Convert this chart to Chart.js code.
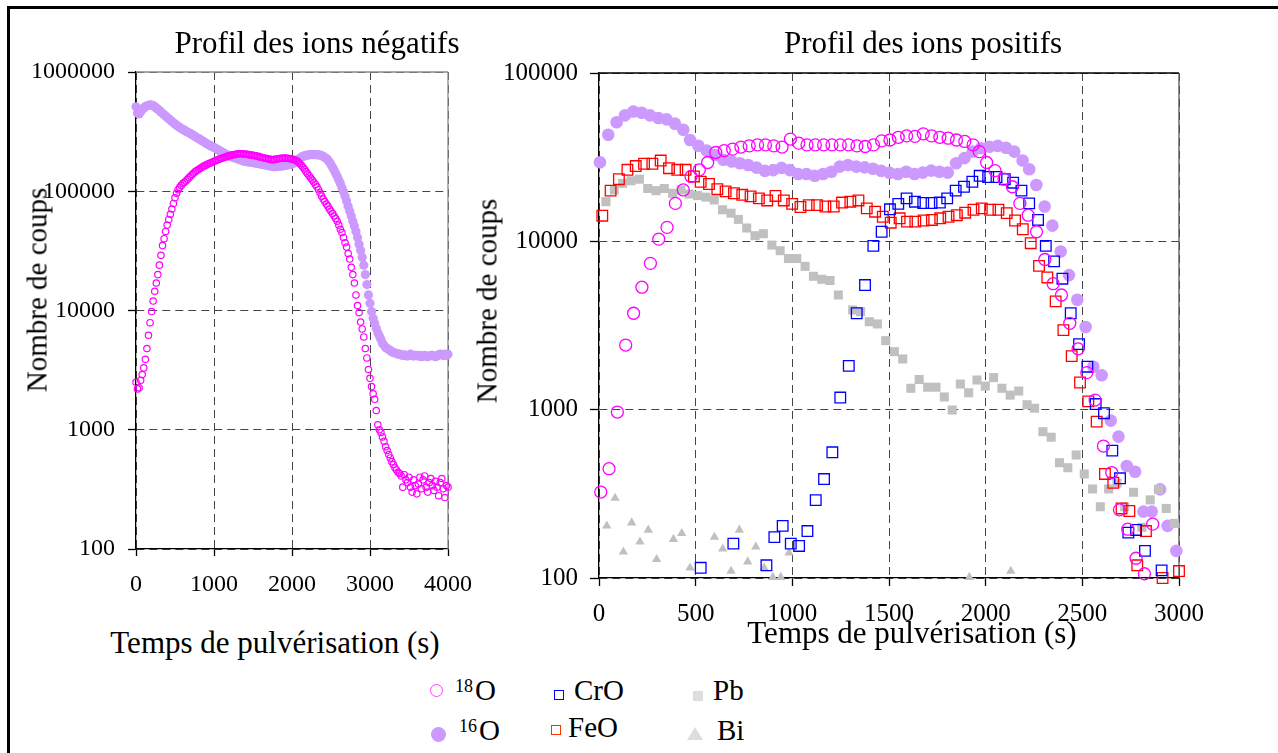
<!DOCTYPE html>
<html lang="fr">
<head>
<meta charset="utf-8">
<title>Profils des ions</title>
<script src="https://cdn.jsdelivr.net/npm/chart.js@4.4.1/dist/chart.umd.min.js"></script>
<style>
  html, body { margin: 0; padding: 0; background: #fff; overflow: hidden; }
  body { width: 1278px; height: 753px; position: relative; font-family: 'Liberation Serif', 'Times New Roman', serif; color: #000; }
  canvas { position: absolute; top: 0; }
  #negChart { left: 0; }
  #posChart { left: 460px; }
  .frame { position: absolute; left: 7px; top: 6px; width: 1400px; height: 900px; border-top: 3px solid #000; border-left: 3px solid #000; }
  .txt { position: absolute; white-space: nowrap; line-height: 1; }
  .title { font-size: 31px; transform: translateX(-50%); }
  .ytitle { font-size: 29px; transform: translate(-50%, -50%) rotate(-90deg); }
  .leg { font-size: 29px; }
  .leg sup { font-size: 18px; vertical-align: baseline; position: relative; top: -8px; margin-right: 2px; }
  .sym { position: absolute; box-sizing: border-box; }
</style>
</head>
<body>
<div class="frame"></div>
<canvas id="negChart" width="634" height="600"></canvas>
<canvas id="posChart" width="818" height="640"></canvas>

<div class="txt title" style="left:317px; top:27px">Profil des ions négatifs</div>
<div class="txt title" style="left:923px; top:27px">Profil des ions positifs</div>
<div class="txt title" style="left:275px; top:627px">Temps de pulvérisation (s)</div>
<div class="txt title" style="left:912px; top:617px">Temps de pulvérisation (s)</div>
<div class="txt ytitle" style="left:37px; top:290px">Nombre de coups</div>
<div class="txt ytitle" style="left:487px; top:301px">Nombre de coups</div>

<!-- legend -->
<div class="sym" style="left:430px; top:684px; width:13px; height:13px; border:1.5px solid #ff44ff; border-radius:50%"></div>
<div class="txt leg" style="left:455px; top:676px"><sup>18</sup>O</div>
<div class="sym" style="left:431px; top:727px; width:15px; height:15px; background:#cc99ff; border-radius:50%"></div>
<div class="txt leg" style="left:459px; top:716px"><sup>16</sup>O</div>
<div class="sym" style="left:554px; top:690px; width:10px; height:10px; border:1.5px solid #0000ff"></div>
<div class="txt leg" style="left:574px; top:676px">CrO</div>
<div class="sym" style="left:551px; top:725px; width:10px; height:10px; border:1.5px solid #ff3300"></div>
<div class="txt leg" style="left:568px; top:713px">FeO</div>
<div class="sym" style="left:693px; top:691px; width:10px; height:10px; background:#dddddd"></div>
<div class="txt leg" style="left:713px; top:676px">Pb</div>
<div class="sym" style="left:687px; top:727px; width:0; height:0; border-left:8px solid transparent; border-right:8px solid transparent; border-bottom:13px solid #dddddd"></div>
<div class="txt leg" style="left:717px; top:716px">Bi</div>

<script>
// ---- negative ions: one reading every 20 s, 0..4000 s ----
const negTimeStep = 20;
const negTime = Array.from({length: 201}, (_, i) => i * negTimeStep);

const o18Neg = [
  2500, 2200, 2250, 2600, 2900, 3300, 3900, 4800, 6200, 7900,            // 0
  9800, 12000, 14500, 17000, 20000, 24000, 29000, 35000, 40000, 46000,   // 200
  52000, 58000, 64000, 71000, 79000, 88000, 96000, 103000, 108000, 112000,
  116000, 119000, 122000, 126000, 130000, 134000, 138000, 142000, 146000, 149000,
  152000, 155000, 158000, 161000, 164000, 166000, 169000, 171000, 173000, 176000,
  178000, 180000, 183000, 185000, 187000, 189000, 191000, 193000, 195000, 197000, // 1000
  199000, 200000, 202000, 203000, 204000, 205000, 206000, 206000, 206000, 205000,
  205000, 204000, 203000, 202000, 201000, 200000, 199000, 198000, 196000, 195000,
  193000, 192000, 190000, 189000, 188000, 186000, 185000, 184000, 184000, 185000,
  186000, 187000, 188000, 189000, 189000, 190000, 190000, 189000, 188000, 187000,
  186000, 185000, 183000, 180000, 176000, 171000, 165000, 159000, 153000, 146000, // 2000
  140000, 135000, 129000, 124000, 119000, 114000, 109000, 103000, 97000, 91000,
  86000, 82000, 78000, 75000, 71000, 68000, 65000, 62000, 59000, 56000,
  52000, 48000, 45000, 41000, 37000, 34000, 30000, 27000, 23000, 20000,
  17000, 13500, 11000, 9600, 8000, 7000, 6000, 4800, 4000, 3200,
  2700, 2300, 2000, 1800, 1450, 1100, 1000, 950, 870, 800,               // 3000
  720, 670, 620, 580, 540, 510, 480, 460, 440, 430,
  410, 330, 420, 380, 360, 400, 330, 300, 380, 340,
  290, 350, 400, 320, 380, 410, 330, 300, 360, 390,
  340, 310, 370, 330, 280, 360, 390, 320, 270, 340,
  330                                                                    // 4000
];

const o16Neg = [
  510000, 450000, 445000, 465000, 485000, 500000, 512000, 520000, 526000, 530000,
  528000, 522000, 512000, 500000, 488000, 475000, 462000, 450000, 438000, 427000,
  416000, 405000, 395000, 385000, 375000, 366000, 358000, 350000, 343000, 336000,
  330000, 325000, 319000, 314000, 309000, 304000, 298000, 293000, 287000, 282000,
  277000, 272000, 267000, 262000, 257000, 252000, 248000, 244000, 240000, 236000,
  233000, 229000, 225000, 221000, 217000, 213000, 210000, 206000, 203000, 200000,
  197000, 195000, 193000, 191000, 189000, 187000, 185000, 183000, 181000, 179000,
  178000, 177000, 176000, 175000, 175000, 174000, 173000, 172000, 171000, 170000,
  169000, 168000, 167000, 166000, 165000, 164000, 163000, 162000, 161000, 161000,
  161000, 162000, 162000, 163000, 163000, 164000, 165000, 166000, 167000, 168000,
  170000, 172000, 175000, 179000, 184000, 189000, 193000, 196000, 198000, 200000,
  201000, 202000, 203000, 203000, 203000, 203000, 202000, 202000, 201000, 199000,
  196000, 192000, 188000, 183000, 176000, 168000, 159000, 150000, 141000, 133000,
  124000, 116000, 107000, 99000, 91000, 83000, 75000, 68000, 62000, 56000,
  51000, 46000, 41000, 36000, 32000, 28000, 24000, 20000, 16500, 13500,
  11500, 9800, 8600, 7800, 7100, 6500, 6100, 5700, 5300, 5100,
  4900, 4800, 4700, 4600, 4500, 4450, 4400, 4350, 4300, 4300,
  4250, 4200, 4250, 4200, 4150, 4200, 4300, 4200, 4150, 4200,
  4200, 4150, 4200, 4100, 4150, 4200, 4150, 4100, 4150, 4200,
  4200, 4150, 4100, 4150, 4250, 4300, 4250, 4200, 4300, 4200,
  4300
];

// ---- positive ions: [time (s), counts] ----
const o18Pos = [[9,324],[52,446],[95,968],[138,2420],[179,3740],[222,5340],[266,7400],[309,10300],[352,12100],[395,16800],
  [436,20200],[476,24300],[519,26600],[562,29400],[604,33700],[648,34600],[691,35300],[734,36300],[777,36900],[820,37400],
  [861,37400],[904,36900],[947,36300],[990,40500],[1033,38300],[1076,37400],[1119,37400],[1162,37400],[1205,37400],[1248,37400],
  [1291,37400],[1334,36900],[1377,36600],[1420,37400],[1462,39500],[1505,40000],[1548,41500],[1591,42300],[1634,42000],[1677,43500],
  [1720,42300],[1763,41500],[1806,41000],[1849,40000],[1892,39200],[1935,37400],[1967,34100],[2005,29400],[2048,26300],[2095,23400],
  [2138,21100],[2177,16800],[2220,14300],[2263,11400],[2306,7800],[2349,5600],[2392,4800],[2435,3260],[2478,2300],[2523,1660],
  [2566,1140],[2609,608],[2652,423],[2692,254],[2735,195],[2778,131],[2821,106],[2864,209]];

const o16Pos = [[5,29500],[48,43000],[91,51000],[134,56000],[178,59000],[221,58000],[264,56000],[307,54000],[350,53000],[393,50000],
  [436,46000],[471,40000],[514,37000],[557,34600],[600,32600],[643,30500],[686,29800],[729,29100],[772,28400],[815,27400],
  [858,26200],[901,26500],[944,27300],[987,26500],[1030,25100],[1073,25100],[1116,24500],[1159,25100],[1202,25900],[1245,27800],
  [1288,28400],[1331,27800],[1374,27500],[1417,27000],[1460,26200],[1503,25500],[1546,25100],[1589,25900],[1632,25100],[1675,25600],
  [1718,26300],[1761,25900],[1804,25600],[1847,29100],[1890,31200],[1933,34100],[1976,35700],[2019,36500],[2062,36900],[2105,36000],
  [2148,34100],[2191,30200],[2225,26800],[2262,21600],[2305,16100],[2345,12400],[2388,8700],[2431,6300],[2474,4500],[2517,3100],
  [2557,1800],[2600,1600],[2647,861],[2687,692],[2730,463],[2773,428],[2816,248],[2859,248],[2902,336],[2941,204],[2986,145]];

const croPos = [[526,115],[695,160],[866,119],[907,175],[950,204],[992,160],[1035,155],[1078,190],[1121,290],[1164,387],
  [1207,558],[1248,1180],[1292,1820],[1333,3740],[1376,5500],[1419,9400],[1462,11400],[1505,15500],[1548,16700],[1591,18000],
  [1634,17200],[1677,16900],[1720,16900],[1763,17000],[1801,18000],[1845,20000],[1888,21100],[1931,22600],[1969,24500],[2013,24100],
  [2056,24100],[2099,23400],[2142,22300],[2185,20000],[2225,16800],[2271,13400],[2311,9400],[2354,7600],[2397,6000],[2440,3740],
  [2483,2450],[2526,1800],[2569,1080],[2612,953],[2655,571],[2695,391],[2738,186],[2778,193],[2824,145],[2910,111]];

const feoPos = [[17,14200],[60,20000],[103,23400],[147,26600],[190,28000],[233,28900],[276,28900],[319,30200],[362,27200],[405,26600],
  [448,26600],[491,24300],[526,22600],[569,21900],[612,20400],[655,19800],[698,19300],[741,18900],[784,18500],[827,18000],
  [870,17500],[913,18600],[956,17500],[999,16700],[1042,16000],[1085,16400],[1128,16400],[1171,16100],[1214,16100],[1257,17000],
  [1300,17200],[1342,17500],[1385,15700],[1428,15000],[1468,14000],[1509,12900],[1555,13700],[1593,13100],[1636,13100],[1679,13300],
  [1722,13400],[1765,13700],[1808,14000],[1851,14300],[1894,14800],[1937,15400],[1980,15700],[2023,15400],[2066,15400],[2109,14700],
  [2152,13300],[2192,11800],[2233,9750],[2276,7150],[2319,6100],[2362,4400],[2402,2970],[2445,2080],[2488,1450],[2531,1120],
  [2574,849],[2617,415],[2660,368],[2703,259],[2743,250],[2784,119],[2829,190],[2915,100],[3000,110]];

const pbPos = [[36,17200],[79,20200],[122,22100],[166,22900],[209,23400],[252,20600],[295,20000],[338,20600],[381,19300],[424,20200],
  [467,19100],[510,18700],[553,18300],[596,17600],[639,15400],[683,14700],[721,13500],[764,12000],[807,10800],[850,11100],
  [894,9500],[937,8800],[980,7900],[1023,7900],[1066,7100],[1109,6200],[1152,5950],[1195,5850],[1238,4800],[1312,3910],
  [1353,3820],[1398,3330],[1440,3230],[1483,2570],[1528,2210],[1571,2000],[1613,1340],[1656,1510],[1700,1360],[1743,1360],
  [1786,1190],[1827,995],[1869,1420],[1912,1260],[1955,1500],[1998,1380],[2041,1550],[2084,1340],[2127,1220],[2171,1290],
  [2214,1070],[2253,1020],[2296,740],[2339,686],[2382,484],[2425,452],[2468,538],[2510,415],[2553,338],[2593,265],
  [2636,338],[2679,366],[2719,265],[2765,323],[2808,200],[2851,291],[2894,336],[2934,259],[2976,211]];

const biPos = [[40,204],[83,298],[126,143],[169,213],[212,164],[255,193],[298,129],[385,170],[428,184],[471,115],
  [597,175],[640,149],[683,110],[726,193],[769,125],[811,153],[854,115],[899,101],[940,101],[983,141],[1916,101],[2130,110]];

// tick labels
const negXTicks = [0, 1000, 2000, 3000, 4000];
const negYTicks = [100, 1000, 10000, 100000, 1000000];
const posXTicks = [0, 500, 1000, 1500, 2000, 2500, 3000];
const posYTicks = [100, 1000, 10000, 100000];

const SERIF = "'Liberation Serif', 'Times New Roman', serif";
Chart.defaults.font.family = SERIF;

// top and right edges of the plot area
const framePlugin = {
  id: 'frame',
  beforeDatasetsDraw(chart, args, opts) {
    const a = chart.chartArea, ctx = chart.ctx;
    ctx.save();
    ctx.lineWidth = 1.3;
    ctx.strokeStyle = opts.topColor;
    ctx.beginPath(); ctx.moveTo(a.left, a.top); ctx.lineTo(a.right, a.top); ctx.stroke();
    ctx.strokeStyle = opts.rightColor;
    ctx.beginPath(); ctx.moveTo(a.right, a.top); ctx.lineTo(a.right, a.bottom); ctx.stroke();
    ctx.restore();
  }
};

function gridOpts(tickLen) {
  return { color: '#444', lineWidth: 1, tickLength: tickLen, tickColor: '#000', tickWidth: 1.3 };
}

function xAxis(ticks, tickLen, pad, height, size) {
  return {
    type: 'linear',
    min: ticks[0],
    max: ticks[ticks.length - 1],
    afterBuildTicks: s => { s.ticks = ticks.map(v => ({value: v})); },
    afterFit: s => { s.height = height; },
    ticks: { callback: v => String(v), padding: pad, color: '#000', font: {size: size}, maxRotation: 0 },
    grid: gridOpts(tickLen),
    border: { color: '#000', width: 1.3, dash: [8, 5] }
  };
}

function yAxis(ticks, tickLen, pad, width, size) {
  return {
    type: 'logarithmic',
    min: ticks[0],
    max: ticks[ticks.length - 1],
    afterBuildTicks: s => { s.ticks = ticks.map(v => ({value: v})); },
    afterFit: s => { s.width = width; },
    ticks: { callback: v => String(v), padding: pad, color: '#000', font: {size: size} },
    grid: gridOpts(tickLen),
    border: { color: '#000', width: 1.3, dash: [8, 5] }
  };
}

function openSeries(label, data, style, color, radius) {
  return { label, data, clip: false, pointStyle: style, pointRadius: radius, pointBorderWidth: 1.3,
           pointBorderColor: color, pointBackgroundColor: 'rgba(0,0,0,0)' };
}
function filledSeries(label, data, style, color, radius) {
  return { label, data, clip: false, pointStyle: style, pointRadius: radius, pointBorderWidth: 0,
           pointBorderColor: color, pointBackgroundColor: color };
}

const common = {
  responsive: false,
  animation: false,
  devicePixelRatio: 1,
  events: []
};

new Chart(document.getElementById('negChart'), {
  type: 'scatter',
  data: {
    datasets: [
      Object.assign(openSeries('18O', negTime.map((t, i) => [t, o18Neg[i]]), 'circle', '#ff00ff', 3.2), {pointBorderWidth: 1.2}),
      filledSeries('16O', negTime.map((t, i) => [t, o16Neg[i]]), 'circle', '#cc99ff', 4.6)
    ]
  },
  options: Object.assign({}, common, {
    layout: { padding: { top: 72, right: 186, bottom: 0, left: 0 } },
    plugins: { legend: {display: false}, tooltip: {enabled: false}, frame: { topColor: '#888', rightColor: '#888' } },
    scales: {
      x: xAxis(negXTicks, 7, 14, 51, 24),
      y: yAxis(negYTicks, 8, 13, 136, 24)
    }
  }),
  plugins: [framePlugin]
});

new Chart(document.getElementById('posChart'), {
  type: 'scatter',
  data: {
    datasets: [
      openSeries('18O', o18Pos, 'circle', '#ff00ff', 6),
      openSeries('CrO', croPos, 'rect', '#0000ff', 7.5),
      openSeries('FeO', feoPos, 'rect', '#ff0000', 7.5),
      filledSeries('Pb', pbPos, 'rect', '#c0c0c0', 6.4),
      filledSeries('16O', o16Pos, 'circle', '#cc99ff', 6.3),
      filledSeries('Bi', biPos, 'triangle', '#c0c0c0', 5.4)
    ]
  },
  options: Object.assign({}, common, {
    layout: { padding: { top: 73, right: 99, bottom: 0, left: 0 } },
    plugins: { legend: {display: false}, tooltip: {enabled: false}, frame: { topColor: '#000', rightColor: '#555' } },
    scales: {
      x: xAxis(posXTicks, 8, 13, 62, 25),
      y: yAxis(posYTicks, 9, 12, 139, 25)
    }
  }),
  plugins: [framePlugin]
});
</script>
</body>
</html>
